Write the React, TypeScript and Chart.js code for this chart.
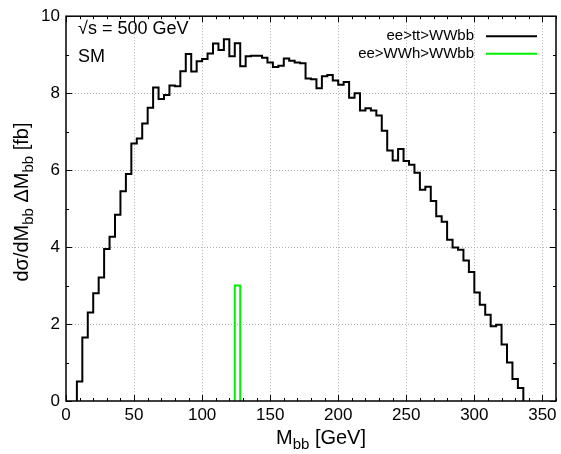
import React, { useEffect, useRef } from 'react';
import { Chart, registerables } from 'chart.js';

Chart.register(...registerables);

// ---- data ----
const ttBinStart = 8;
const ttBinWidth = 4;
const ttValues = [
  0.51, 1.65, 2.30, 2.80, 3.21, 3.95, 4.27, 4.84, 5.45, 5.90,
  6.69, 6.82, 7.21, 7.62, 8.15, 7.85, 7.95, 8.20, 8.18, 8.57,
  9.02, 8.56, 8.83, 8.89, 9.03, 9.29, 9.12, 9.40, 8.96, 9.30,
  8.70, 8.96, 8.97, 8.97, 8.92, 8.80, 8.68, 8.71, 8.90, 8.84,
  8.80, 8.78, 8.38, 8.36, 8.13, 8.44, 8.47, 8.33, 8.22, 8.29,
  7.88, 8.00, 7.55, 7.61, 7.55, 7.42, 7.02, 6.51, 6.25, 6.55,
  6.24, 6.14, 5.93, 5.49, 5.57, 5.20, 4.80, 4.66, 4.19, 3.99,
  3.93, 3.65, 3.35, 2.82, 2.50, 2.24, 1.94, 1.98, 1.47, 1.00,
  0.57, 0.34,
];
const whBinStart = 124;
const whBinWidth = 4;
const whValues = [3.0];

const xTicks = [0, 50, 100, 150, 200, 250, 300, 350];
const yTicks = [0, 2, 4, 6, 8, 10];
const xMin = 0;
const xMax = 360;
const yMin = 0;
const yMax = 10;
const seriesLabels = ['ee>tt>WWbb', 'ee>WWh>WWbb'];
const seriesColors = ['#000000', '#00f000'];
const infoLines = ['\u221As = 500 GeV', 'SM'];

const FONT = "'Liberation Sans', Arial, Helvetica, sans-serif";

function histPoints(start: number, width: number, values: number[]) {
  const pts: { x: number; y: number }[] = [{ x: start, y: 0 }];
  values.forEach((v, i) => pts.push({ x: start + i * width, y: v }));
  pts.push({ x: start + values.length * width, y: 0 });
  return pts;
}

type Part = { t: string; sub?: boolean };

function richWidth(ctx: CanvasRenderingContext2D, parts: Part[], size: number, subSize: number) {
  let w = 0;
  for (const p of parts) {
    ctx.font = `${p.sub ? subSize : size}px ${FONT}`;
    w += ctx.measureText(p.t).width;
  }
  return w;
}

function drawRich(ctx: CanvasRenderingContext2D, parts: Part[], x: number, y: number, size: number, subSize: number, subShift: number) {
  let cx = x;
  for (const p of parts) {
    ctx.font = `${p.sub ? subSize : size}px ${FONT}`;
    ctx.fillText(p.t, cx, p.sub ? y + subShift : y);
    cx += ctx.measureText(p.t).width;
  }
}

const decorPlugin = {
  id: 'decor',
  beforeDatasetsDraw(chart: any) {
    const { ctx, chartArea } = chart;
    const { left, right, top, bottom } = chartArea;
    const xs = chart.scales.x;
    const ys = chart.scales.y;
    ctx.save();
    ctx.strokeStyle = '#b0b0b0';
    ctx.lineWidth = 1;
    ctx.setLineDash([1, 2]);
    for (const v of xTicks) {
      if (v <= xMin || v >= xMax) continue;
      const px = Math.round(xs.getPixelForValue(v)) + 0.5;
      ctx.beginPath();
      ctx.moveTo(px, top);
      ctx.lineTo(px, bottom);
      ctx.stroke();
    }
    for (const v of yTicks) {
      if (v <= yMin || v >= yMax) continue;
      const py = Math.round(ys.getPixelForValue(v)) + 0.5;
      ctx.beginPath();
      ctx.moveTo(left, py);
      ctx.lineTo(right, py);
      ctx.stroke();
    }
    ctx.restore();
  },
  afterDatasetsDraw(chart: any) {
    const { ctx, chartArea } = chart;
    const { left, right, top, bottom } = chartArea;
    const xs = chart.scales.x;
    const ys = chart.scales.y;
    ctx.save();
    ctx.strokeStyle = '#000';
    ctx.lineWidth = 1;
    ctx.setLineDash([]);
    for (let v = xMin; v <= xMax; v += 10) {
      const px = Math.round(xs.getPixelForValue(v)) + 0.5;
      const len = v % 50 === 0 ? 6 : 3;
      ctx.beginPath();
      ctx.moveTo(px, bottom);
      ctx.lineTo(px, bottom - len);
      ctx.moveTo(px, top);
      ctx.lineTo(px, top + len);
      ctx.stroke();
    }
    for (let v = yMin; v <= yMax; v += 1) {
      const py = Math.round(ys.getPixelForValue(v)) + 0.5;
      const len = v % 2 === 0 ? 6 : 3;
      ctx.beginPath();
      ctx.moveTo(left, py);
      ctx.lineTo(left + len, py);
      ctx.moveTo(right, py);
      ctx.lineTo(right - len, py);
      ctx.stroke();
    }
    ctx.lineWidth = 1.5;
    ctx.strokeRect(left, top, right - left, bottom - top);

    // legend
    ctx.font = `15px ${FONT}`;
    ctx.textBaseline = 'middle';
    ctx.textAlign = 'right';
    ctx.fillStyle = '#000';
    const legX = right - 82;
    const legY0 = top + 20;
    const legDy = 17.5;
    seriesLabels.forEach((lab, i) => {
      const yy = legY0 + i * legDy;
      ctx.fillText(lab, legX, yy);
      ctx.strokeStyle = seriesColors[i];
      ctx.lineWidth = 2;
      ctx.beginPath();
      ctx.moveTo(right - 70, yy);
      ctx.lineTo(right - 19, yy);
      ctx.stroke();
    });

    // info text
    ctx.textAlign = 'left';
    ctx.font = `18px ${FONT}`;
    infoLines.forEach((t, i) => {
      ctx.fillText(t, left + 12, top + 13 + i * 28);
    });
    ctx.restore();
  },
  afterDraw(chart: any) {
    const { ctx, chartArea } = chart;
    ctx.save();
    ctx.fillStyle = '#000';
    ctx.textBaseline = 'alphabetic';
    ctx.textAlign = 'left';
    const mainSize = 20;
    const subSize = 15;
    // x title
    const xParts: Part[] = [{ t: 'M' }, { t: 'bb', sub: true }, { t: ' [GeV]' }];
    const xw = richWidth(ctx, xParts, mainSize, subSize);
    const xc = 321;
    drawRich(ctx, xParts, xc - xw / 2, 444, mainSize, subSize, 5);
    // y title
    const yParts: Part[] = [
      { t: 'd\u03C3/dM' }, { t: 'bb', sub: true }, { t: ' \u0394M' }, { t: 'bb', sub: true }, { t: ' [fb]' },
    ];
    const yw = richWidth(ctx, yParts, mainSize, subSize);
    ctx.translate(28, 202);
    ctx.rotate(-Math.PI / 2);
    drawRich(ctx, yParts, -yw / 2, 0, mainSize, subSize, 5);
    ctx.restore();
  },
};

export default function App() {
  const ref = useRef<HTMLCanvasElement | null>(null);
  useEffect(() => {
    if (!ref.current) return;
    const chart = new Chart(ref.current, {
      type: 'line',
      data: {
        datasets: [
          {
            label: seriesLabels[0],
            data: histPoints(ttBinStart, ttBinWidth, ttValues),
            borderColor: seriesColors[0],
            borderWidth: 2,
            stepped: 'before',
            pointRadius: 0,
            fill: false,
            borderJoinStyle: 'miter',
          },
          {
            label: seriesLabels[1],
            data: histPoints(whBinStart, whBinWidth, whValues),
            borderColor: seriesColors[1],
            borderWidth: 2,
            stepped: 'before',
            pointRadius: 0,
            fill: false,
            borderJoinStyle: 'miter',
          },
        ],
      },
      options: {
        responsive: false,
        animation: false,
        devicePixelRatio: 1,
        layout: { padding: { top: 14, right: 5, left: 0, bottom: 0 } },
        plugins: { legend: { display: false }, tooltip: { enabled: false } },
        scales: {
          x: {
            type: 'linear',
            min: xMin,
            max: xMax,
            grid: { display: false, drawTicks: false },
            border: { display: false },
            ticks: { padding: 4, color: '#000', font: { family: FONT, size: 17 }, maxRotation: 0 },
            afterBuildTicks: (axis: any) => {
              axis.ticks = xTicks.map((v) => ({ value: v }));
            },
            afterFit: (axis: any) => {
              axis.height = 53;
            },
          },
          y: {
            type: 'linear',
            min: yMin,
            max: yMax,
            grid: { display: false, drawTicks: false },
            border: { display: false },
            ticks: { padding: 6, color: '#000', font: { family: FONT, size: 17 } },
            afterBuildTicks: (axis: any) => {
              axis.ticks = yTicks.map((v) => ({ value: v }));
            },
            afterFit: (axis: any) => {
              axis.width = 66;
            },
          },
        },
      },
      plugins: [decorPlugin],
    } as any);
    return () => chart.destroy();
  }, []);
  return (
    <div style={{ position: 'fixed', left: 0, top: 0, width: 561, height: 454, background: '#fff' }}>
      <canvas ref={ref} width={561} height={454} />
    </div>
  );
}
